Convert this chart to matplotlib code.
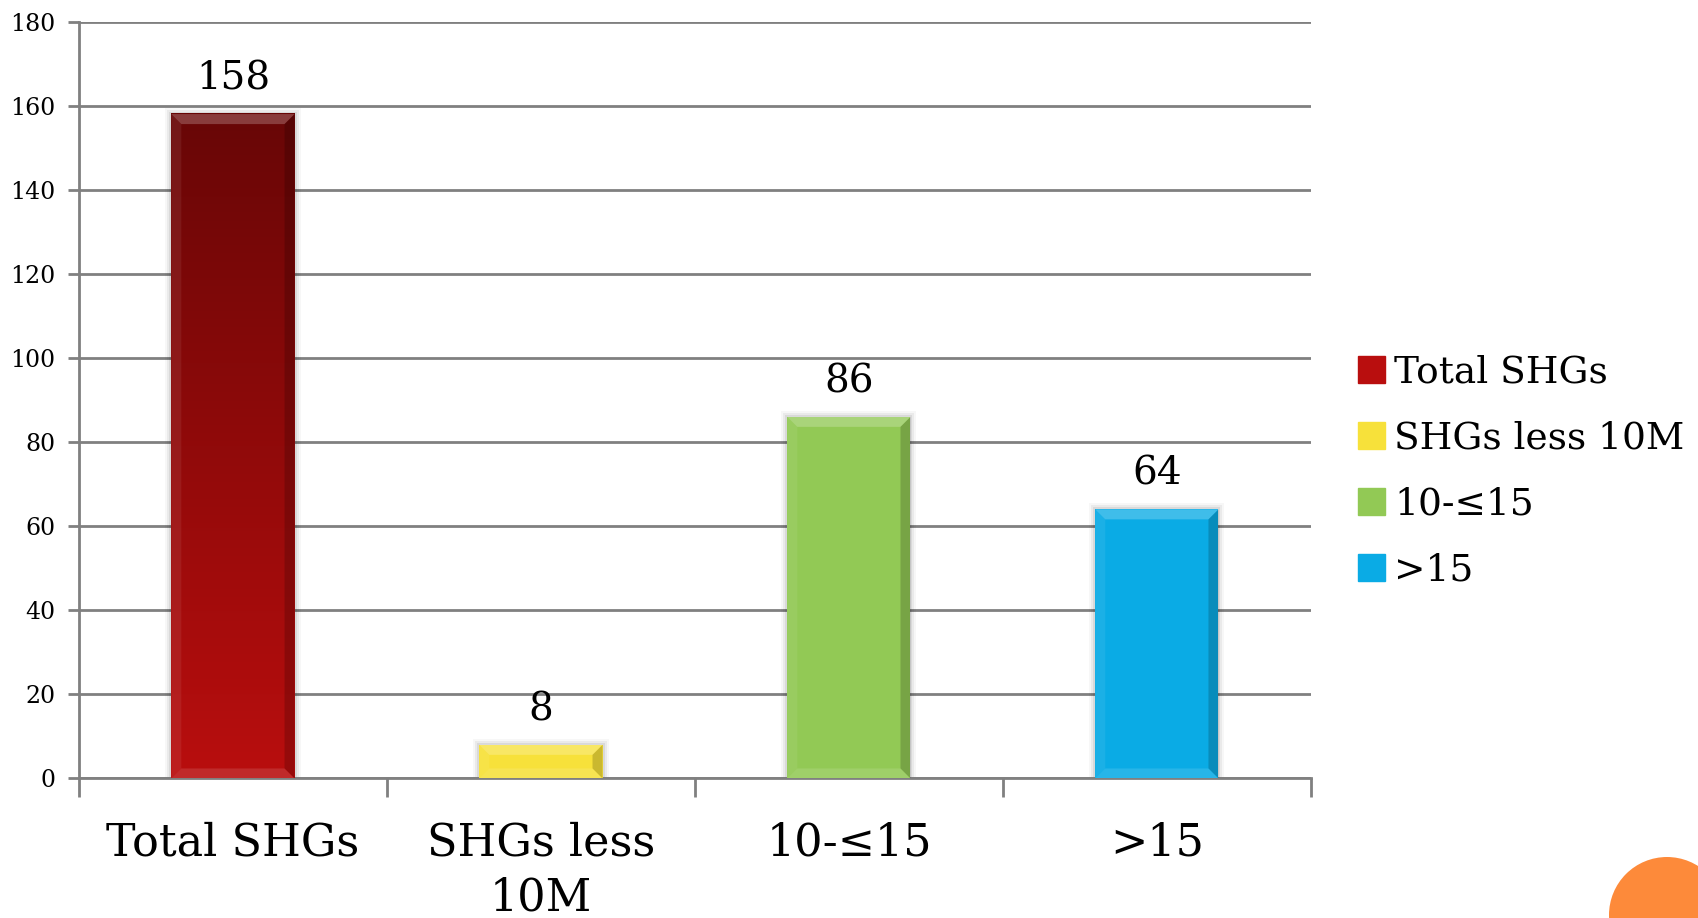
import matplotlib.pyplot as plt
import numpy as np
from matplotlib.colors import LinearSegmentedColormap
from matplotlib.patches import Polygon, Ellipse

# Number of self help groups by size class
categories = ["Total SHGs", "SHGs less\n10M", "10-\u226415", ">15"]
legend_names = ["Total SHGs", "SHGs less 10M", "10-\u226415", ">15"]
values = [158, 8, 86, 64]
colors = ["#a80c0c", "#f7e13a", "#92c955", "#0aabe5"]
red_top, red_bottom = "#680606", "#b90e0e"

plt.rcParams["font.family"] = ["DejaVu Serif"]

fig = plt.figure(figsize=(16.98, 9.18), dpi=100)
ax = fig.add_axes([0.0465, 0.152, 0.7255, 0.8245])
W, H = 1698, 918

x = np.arange(len(values))
bars = ax.bar(x, values, width=0.4, color=colors, zorder=3)
ax.set_xlim(-0.5, len(values) - 0.5)
ax.set_ylim(0, 180)

# size of one pixel in data units, for the bevel edges
dx = len(values) / (0.7255 * W)
dy = 180 / (0.8245 * H)

for i, b in enumerate(bars):
    x0, y0 = b.get_x(), b.get_y()
    w, h = b.get_width(), b.get_height()
    x1, y1 = x0 + w, y0 + h
    # soft shadow
    for k, a in ((6, 0.03), (4, 0.05), (2, 0.07)):
        ax.add_patch(plt.Rectangle((x0 - k * dx, y0 - k * dy), w + 2 * k * dx, h + 2 * k * dy,
                                   color="black", alpha=a, lw=0, zorder=2))
    if i == 0:
        cmap = LinearSegmentedColormap.from_list("redgrad", [red_bottom, red_top])
        grad = np.linspace(0, 1, 256).reshape(-1, 1)
        ax.imshow(grad, extent=(x0, x1, y0, y1), origin="lower", cmap=cmap,
                  aspect="auto", zorder=3.5, interpolation="bilinear")
    bx, by = 10 * dx, min(10 * dy, h / 2)
    # bevel overlays
    ax.add_patch(Polygon([(x0, y1), (x1, y1), (x1 - bx, y1 - by), (x0 + bx, y1 - by)],
                         color="white", alpha=0.22, lw=0, zorder=4))
    ax.add_patch(Polygon([(x0, y0), (x0, y1), (x0 + bx, y1 - by), (x0 + bx, y0 + by)],
                         color="white", alpha=0.07, lw=0, zorder=4))
    ax.add_patch(Polygon([(x1, y0), (x1, y1), (x1 - bx, y1 - by), (x1 - bx, y0 + by)],
                         color="black", alpha=0.18, lw=0, zorder=4))
    ax.add_patch(Polygon([(x0, y0), (x1, y0), (x1 - bx, y0 + by), (x0 + bx, y0 + by)],
                         color="white", alpha=0.12, lw=0, zorder=4))
    ax.annotate(str(values[i]), (x[i], values[i]), xytext=(0, 12), textcoords="offset points",
                ha="center", va="bottom", fontsize=28, zorder=5)

# grid and axes
ax.set_yticks(np.arange(0, 181, 20))
ax.yaxis.grid(True, color="#808080", lw=2)
ax.set_axisbelow(True)
for s in ("top", "right"):
    ax.spines[s].set_visible(False)
for s in ("left", "bottom"):
    ax.spines[s].set_color("#808080")
    ax.spines[s].set_linewidth(2)
ax.tick_params(axis="y", length=8, width=2, color="#808080", labelsize=17, pad=9)
ax.set_xticks(x)
ax.set_xticklabels(categories, fontsize=32, linespacing=1.33)
ax.tick_params(axis="x", length=0, pad=31)
ax.set_xticks(np.arange(-0.5, len(values), 1), minor=True)
ax.tick_params(axis="x", which="minor", length=14, width=2, color="#808080")

# legend with square swatches
handles = [plt.Rectangle((0, 0), 1, 1, color=c) for c in [red_bottom] + colors[1:]]
ax.legend(handles, legend_names, loc="center left", bbox_to_anchor=(1.026, 0.405),
          frameon=False, fontsize=27, handlelength=0.72, handleheight=0.72,
          handletextpad=0.25, labelspacing=0.8, borderaxespad=0)

# decorative circle in the lower right corner
fig.add_artist(Ellipse((1667 / W, 1 - 915 / H), 116 / W, 116 / H,
                       transform=fig.transFigure, color="#fd8a3a", lw=0))

fig.savefig("out.png", dpi=100)
